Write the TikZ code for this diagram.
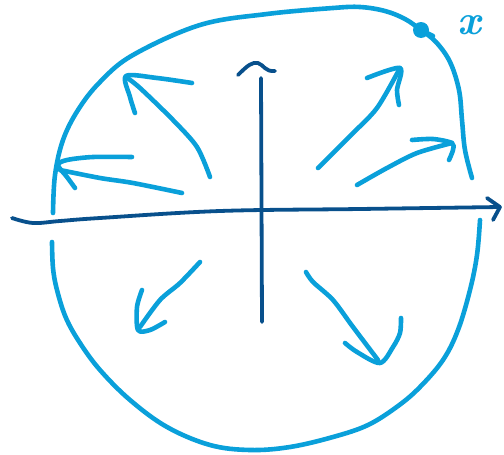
\documentclass[tikz,border=0pt]{standalone}
\usetikzlibrary{positioning}
\definecolor{sketchblue}{RGB}{10,160,218}
\definecolor{axisblue}{RGB}{8,80,140}

\begin{document}
\begin{tikzpicture}[x=1pt,y=-1pt]
\tikzset{
  stroke/.style={draw=sketchblue,line width=4.6pt,line cap=round,line join=round},
  axisline/.style={draw=axisblue,line width=3.8pt,line cap=round,line join=round},
  ptdot/.style={circle,fill=sketchblue,inner sep=0pt,minimum size=16pt}
}
\useasboundingbox (0,0) rectangle (504,455);
% closed curve, upper and lower halves
\draw[stroke] plot[smooth,tension=0.6] coordinates {(53,213) (55,175) (63,140) (78,110) (100,82) (133,55) (200,25) (267,14) (333,8) (360,7) (385,11) (405,19) (421,30) (436,42) (450,62) (459,90) (462,120) (465,150) (472,178)};
\draw[stroke] plot[smooth,tension=0.6] coordinates {(480,220) (477,255) (470,290) (458,330) (443,360) (420,387) (398,406) (368,425) (333,437) (290,447) (250,450) (210,445) (167,427) (130,400) (100,370) (80,343) (66,318) (57,290) (53,268) (52,242)};
\node[ptdot] (pt) at (421,30) {};
\draw[stroke] (pt.center) -- (433,36);
\node[text=sketchblue,font=\fontsize{42}{42}\selectfont\bfseries\itshape,inner sep=0pt] (xlabel) at (469,25) {x};
% axes
\draw[axisline] plot[smooth,tension=0.6] coordinates {(12,218) (33,223) (60,221) (100,218) (220,211) (360,209) (500,207)};
\draw[axisline] (487,198) -- (500,207) -- (493,220);
\draw[axisline] (262,322) -- (261,78);
\draw[axisline] (238,75) .. controls (248,65) and (252,62) .. (258,63) .. controls (264,65) and (265,72) .. (275,71);
% arrows
\draw[stroke] plot[smooth] coordinates {(210,177) (197,147) (173,120) (140,88) (126,77)};
\draw[stroke] plot[smooth] coordinates {(192,83) (157,78) (126,76) (130,97) (135,113)};
\draw[stroke] plot[smooth] coordinates {(182,193) (133,183) (100,178) (60,170)};
\draw[stroke] plot[smooth] coordinates {(132,157) (93,157) (67,160) (58,165) (67,177) (75,188)};
\draw[stroke] plot[smooth] coordinates {(318,168) (350,136) (377,108) (400,68)};
\draw[stroke] plot[smooth] coordinates {(367,78) (400,68) (397,90) (399,105)};
\draw[stroke] plot[smooth] coordinates {(357,185) (387,168) (417,153) (452,143)};
\draw[stroke] plot[smooth] coordinates {(412,140) (433,139) (452,143) (453,150) (449,160)};
\draw[stroke] plot[smooth] coordinates {(200,262) (180,283) (160,300) (140,327)};
\draw[stroke] plot[smooth] coordinates {(142,290) (137,307) (138,330) (150,330) (165,322)};
\draw[stroke] plot[smooth] coordinates {(306,272) (313,282) (333,300) (353,327) (378,360)};
\draw[stroke] plot[smooth] coordinates {(345,343) (357,352) (380,363) (393,347) (400,333) (401,318)};
\end{tikzpicture}
\end{document}
